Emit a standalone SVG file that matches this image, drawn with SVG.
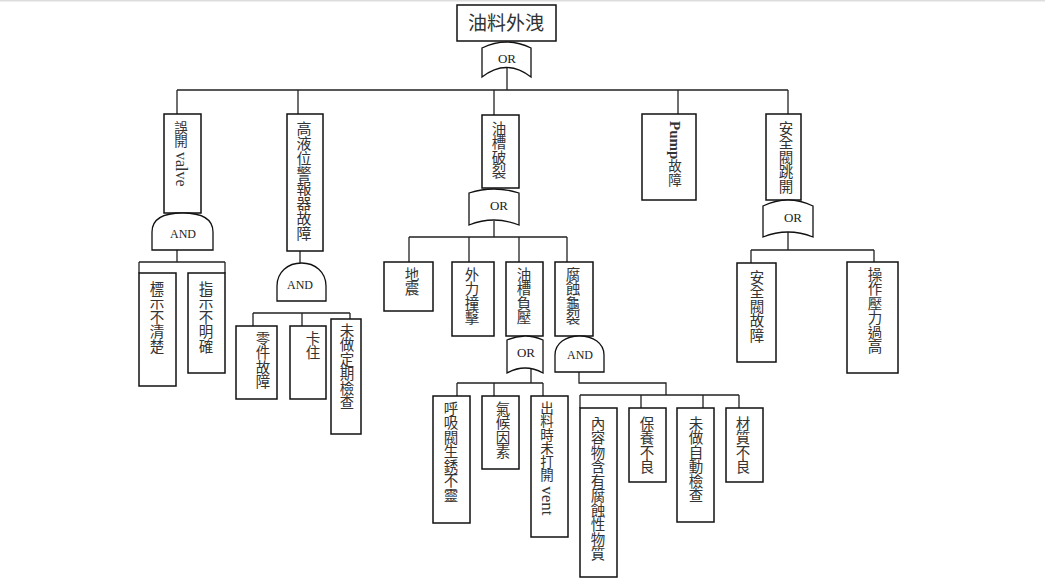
<svg xmlns="http://www.w3.org/2000/svg" width="1045" height="579" viewBox="0 0 1045 579">
<style>
.box{fill:#fff;stroke:#111;stroke-width:1.5}
.gate{fill:#fff;stroke:#111;stroke-width:1.3}
.ln{fill:none;stroke:#222;stroke-width:1.3}
.v{font-family:"Noto Sans CJK TC","Liberation Serif",sans-serif;font-size:14.5px;writing-mode:vertical-rl;fill:#333}
.lat{font-family:"Liberation Serif",serif}
.h{font-family:"Noto Sans CJK TC",sans-serif;fill:#333;text-anchor:middle}
.g{font-family:"Liberation Serif",serif;font-size:13px;fill:#222;text-anchor:middle}
.ga{font-family:"Liberation Serif",serif;font-size:12px;fill:#222;text-anchor:middle}
</style>
<rect x="0" y="0" width="1045" height="1.5" fill="#ddd"/>
<g id="connectors">
<path class="ln" d="M507,68 V90 M177,90 H788 M177,90 V114 M298,90 V114 M494,90 V115 M678,90 V114 M788,90 V114"/>
<path class="ln" d="M177,250 V262 M139,262 H225 M139,262 V273 M225,262 V273"/>
<path class="ln" d="M300,251 V263 M253,313 H350 M253,313 V326 M302,313 V326 M350,313 V319"/>
<path class="ln" d="M494,221 V237 M409,237 H567 M409,237 V262 M469,237 V262 M519,237 V262 M567,237 V262"/>
<path class="ln" d="M531,369 V383 M457,383 H543 M457,383 V396 M494,383 V396 M543,383 V396"/>
<path class="ln" d="M579,372 V383 H666 V395 M580,395 H739 M580,395 V408 M641,395 V408 M703,395 V408 M739,395 V408"/>
<path class="ln" d="M788,232 V250 M751,250 H874 M751,250 V263 M874,250 V262"/>
</g>
<g id="top">
<rect class="box" x="457" y="5" width="99" height="36"/>
<text class="h" x="506" y="30" font-size="19">油料外洩</text>
</g>
<g id="gate-top-or">
<path class="gate" d="M482,48 Q506.5,36 531,48 L531,77 Q506.5,58 482,77 Z"/>
<text class="g" x="507" y="63">OR</text>
</g>
<g id="n-wukai">
<rect class="box" x="164" y="114" width="37" height="99"/>
<text class="v" x="181" y="121" style="font-size:13.5px">誤開<tspan class="lat" style="font-size:16px"> valve</tspan></text>
</g>
<g id="gate-wukai-and">
<path class="gate" d="M152,250 L152,232 C152,218 165,213 182.5,213 C200,213 213,218 213,232 L213,250 Z"/>
<text class="ga" x="183" y="238">AND</text>
</g>
<g id="n-biaoshi">
<rect class="box" x="139" y="273" width="37" height="113"/>
<text class="v" x="157" y="281">標示不清楚</text>
</g>
<g id="n-zhishi">
<rect class="box" x="188" y="273" width="37" height="100"/>
<text class="v" x="206" y="281">指示不明確</text>
</g>
<g id="n-gaoye">
<rect class="box" x="287" y="114" width="36" height="137"/>
<text class="v" x="304" y="121" style="font-size:15px">高液位警報器故障</text>
</g>
<g id="gate-gaoye-and">
<path class="gate" d="M277,301 L277,286 C277,272 288,263 301.5,263 C315,263 326,272 326,286 L326,301 Z"/>
<text class="ga" x="300" y="289">AND</text>
</g>
<g id="n-lingjian">
<rect class="box" x="236" y="326" width="41" height="73"/>
<text class="v" x="263" y="331">零件故障</text>
</g>
<g id="n-kazhu">
<rect class="box" x="290" y="326" width="36" height="73"/>
<text class="v" x="313" y="331">卡住</text>
</g>
<g id="n-weizuo">
<rect class="box" x="331" y="319" width="30" height="115"/>
<text class="v" x="347" y="323">未做定期檢查</text>
</g>
<g id="n-youcao">
<rect class="box" x="482" y="115" width="37" height="73"/>
<text class="v" x="499" y="121">油槽破裂</text>
</g>
<g id="gate-youcao-or">
<path class="gate" d="M469,193 Q494,185 519,193 L519,225 Q494,215 469,225 Z"/>
<text class="g" x="499" y="210">OR</text>
</g>
<g id="n-dizhen">
<rect class="box" x="384" y="262" width="49" height="49"/>
<text class="v" x="412" y="267">地震</text>
</g>
<g id="n-waili">
<rect class="box" x="452" y="262" width="42" height="74"/>
<text class="v" x="472" y="267">外力撞擊</text>
</g>
<g id="n-fuya">
<rect class="box" x="506" y="262" width="37" height="74"/>
<text class="v" x="524" y="267">油槽負壓</text>
</g>
<g id="n-fushi">
<rect class="box" x="555" y="262" width="38" height="74"/>
<text class="v" x="573" y="267">腐蝕龜裂</text>
</g>
<g id="gate-fuya-or">
<path class="gate" d="M507,340 Q525,332 543,340 L543,373 Q525,363 507,373 Z"/>
<text class="g" x="526" y="357">OR</text>
</g>
<g id="gate-fushi-and">
<path class="gate" d="M555,372 L555,355 C555,343 566,336 579.5,336 C593,336 604,343 604,355 L604,372 Z"/>
<text class="ga" x="580" y="359">AND</text>
</g>
<g id="n-huxi">
<rect class="box" x="433" y="396" width="37" height="127"/>
<text class="v" x="451" y="401">呼吸閥生銹不靈</text>
</g>
<g id="n-qihou">
<rect class="box" x="482" y="396" width="37" height="73"/>
<text class="v" x="503" y="401">氣候因素</text>
</g>
<g id="n-chuliao">
<rect class="box" x="531" y="396" width="37" height="141"/>
<text class="v" x="547" y="401" style="font-size:13.5px">出料時未打開<tspan class="lat" style="font-size:17px"> vent</tspan></text>
</g>
<g id="n-neirong">
<rect class="box" x="580" y="408" width="37" height="169"/>
<text class="v" x="598" y="416">內容物含有腐蝕性物質</text>
</g>
<g id="n-baoyang">
<rect class="box" x="629" y="408" width="37" height="74"/>
<text class="v" x="647" y="416">保養不良</text>
</g>
<g id="n-zidong">
<rect class="box" x="677" y="408" width="37" height="114"/>
<text class="v" x="696" y="416">未做自動檢查</text>
</g>
<g id="n-caizhi">
<rect class="box" x="726" y="408" width="37" height="74"/>
<text class="v" x="743" y="416">材質不良</text>
</g>
<g id="n-pump">
<rect class="box" x="642" y="114" width="54" height="86"/>
<text class="v" x="675" y="121" style="font-size:13.5px"><tspan class="lat" font-weight="bold" style="font-size:15px">Pump</tspan>故障</text>
</g>
<g id="n-anquan">
<rect class="box" x="766" y="114" width="35" height="86"/>
<text class="v" x="786" y="121">安全閥跳開</text>
</g>
<g id="gate-anquan-or">
<path class="gate" d="M763,206 Q788,194 813,206 L813,237 Q788,227 763,237 Z"/>
<text class="g" x="793" y="222">OR</text>
</g>
<g id="n-anquanfa">
<rect class="box" x="737" y="263" width="39" height="99"/>
<text class="v" x="757" y="270">安全閥故障</text>
</g>
<g id="n-caozuo">
<rect class="box" x="847" y="262" width="51" height="111"/>
<text class="v" x="875" y="267">操作壓力過高</text>
</g>
</svg>
